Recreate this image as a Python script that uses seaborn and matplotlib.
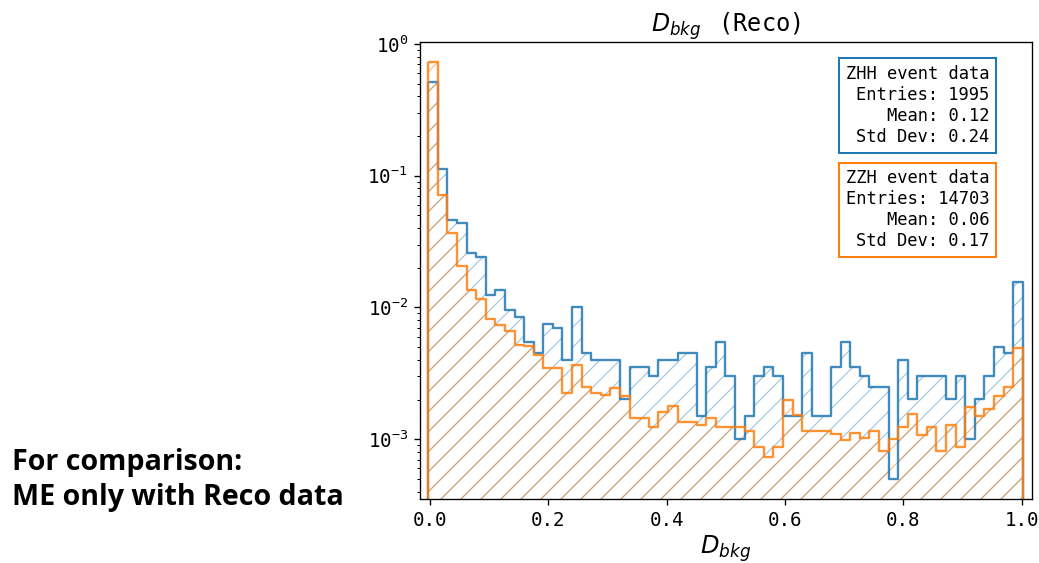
import numpy as np
import matplotlib
matplotlib.use("Agg")
import matplotlib.pyplot as plt
from matplotlib.colors import to_rgba
import seaborn as sns

# ---------------- data ----------------
N_BINS = 62
X_RANGE = (-0.003, 1.002)

zhh_values = [0.518, 0.1118, 0.0461, 0.0441, 0.0261, 0.0241, 0.01253, 0.01353, 0.00952, 0.00852,
              0.00551, 0.00451, 0.00752, 0.00702, 0.00401, 0.01003, 0.00451, 0.00401, 0.00401, 0.00401,
              0.00201, 0.00351, 0.00351, 0.00301, 0.00401, 0.00401, 0.00451, 0.00451, 0.0015, 0.00351,
              0.00551, 0.00301, 0.0010, 0.0015, 0.00301, 0.00351, 0.00301, 0.0015, 0.0015, 0.00451,
              0.0015, 0.0015, 0.00351, 0.00551, 0.00351, 0.00301, 0.00251, 0.00251, 0.0005, 0.00401,
              0.00201, 0.00301, 0.00301, 0.00301, 0.00201, 0.00301, 0.0010, 0.00201, 0.00301, 0.00501,
              0.00451, 0.01554]

zzh_values = [0.734, 0.0716, 0.0367, 0.0207, 0.0136, 0.0116, 0.00815, 0.00738, 0.00657, 0.00521,
              0.00506, 0.00438, 0.00346, 0.00346, 0.00224, 0.00368, 0.00251, 0.00224, 0.00217, 0.00244,
              0.00211, 0.00145, 0.00145, 0.00123, 0.00162, 0.00179, 0.00136, 0.00136, 0.00129, 0.00145,
              0.00123, 0.00123, 0.00123, 0.00116, 0.00088, 0.000739, 0.00088, 0.00199, 0.00153, 0.00115,
              0.00115, 0.00115, 0.00110, 0.00099, 0.00112, 0.00103, 0.00115, 0.000807, 0.00101, 0.00123,
              0.00155, 0.00108, 0.00123, 0.000807, 0.00129, 0.00088, 0.00177, 0.00149, 0.00169, 0.00214,
              0.00248, 0.00491]

series_names = ["ZHH event data", "ZZH event data"]
entries = [1995, 14703]
means = [0.12, 0.06]
std_devs = [0.24, 0.17]
x_ticks = [0.0, 0.2, 0.4, 0.6, 0.8, 1.0]
title_text = r"$D_{bkg}\,$ (Reco)"
xlabel_text = r"$D_{bkg}$"
note_lines = ["For comparison:", "ME only with Reco data"]

# ---------------- style ----------------
sns.set_style("ticks")
plt.rcParams.update({
    "font.family": ["DejaVu Sans Mono", "DejaVu Sans"],
    "text.color": "black",
    "axes.labelcolor": "black",
    "xtick.color": "black",
    "ytick.color": "black",
    "axes.edgecolor": "black",
    "axes.linewidth": 0.8,
    "hatch.linewidth": 0.7,
    "xtick.direction": "out",
    "ytick.direction": "out",
    "xtick.major.size": 3.5,
    "ytick.major.size": 3.5,
    "ytick.minor.size": 2.0,
    "xtick.major.width": 0.8,
    "ytick.major.width": 0.8,
    "ytick.minor.width": 0.6,
})

DPI = 120
fig = plt.figure(figsize=(1039 / DPI, 563 / DPI), dpi=DPI)
fig.patch.set_facecolor("white")
ax = fig.add_axes([0.4038, 0.1132, 0.5895, 0.8117])

bin_width = (X_RANGE[1] - X_RANGE[0]) / N_BINS
centers = X_RANGE[0] + bin_width * (np.arange(N_BINS) + 0.5)
colors = ["tab:blue", "tab:orange"]
series = [zhh_values, zzh_values]
hatch_alpha = [0.42, 0.55]

# hatched fills
for vals, c, ha in zip(series, colors, hatch_alpha):
    sns.histplot(x=centers, weights=vals, bins=N_BINS, binrange=X_RANGE, element="step",
                 fill=True, ax=ax, color=c, facecolor="none", edgecolor=to_rgba(c, ha),
                 linewidth=0, hatch="//")
# outlines
for vals, c in zip(series, colors):
    sns.histplot(x=centers, weights=vals, bins=N_BINS, binrange=X_RANGE, element="step",
                 fill=True, ax=ax, color=c, facecolor="none", edgecolor=to_rgba(c, 0.85),
                 linewidth=1.4)

ax.set_yscale("log")
ax.set_xlim(-0.0177, 1.0177)
ax.set_ylim(3.5e-4, 1.03)
ax.set_xticks(x_ticks)
ax.tick_params(axis="both", which="major", labelsize=11.5)
ax.set_ylabel("")
ax.set_xlabel(xlabel_text, fontsize=14.5, labelpad=2)
ax.set_title(title_text, fontsize=14.2, pad=5)
for sp in ax.spines.values():
    sp.set_visible(True)
    sp.set_color("black")

# stats boxes
box_tops = [0.9503, 0.7217]
for name, n, m, s, c, yt in zip(series_names, entries, means, std_devs, colors, box_tops):
    txt = f"{name}\nEntries: {n}\nMean: {m:.2f}\nStd Dev: {s:.2f}"
    ax.text(0.9303, yt, txt, transform=ax.transAxes, ha="right", va="top",
            multialignment="right", fontsize=10.3, linespacing=1.21,
            bbox=dict(boxstyle="square,pad=0.4", facecolor="white", edgecolor=c, linewidth=1.2))

# note text on the left
for line, ybase in zip(note_lines, [470, 505]):
    fig.text(0.01155, 1 - ybase / 563, line, family=["Open Sans", "DejaVu Sans"], weight="bold",
             fontsize=17.2, va="baseline", ha="left")

fig.savefig("out.png", dpi=DPI, facecolor="white")
